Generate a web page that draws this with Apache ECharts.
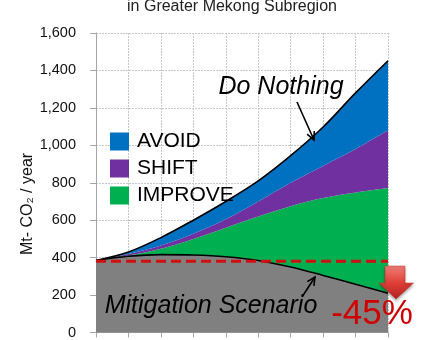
<!DOCTYPE html>
<html>
<head>
<meta charset="utf-8">
<script src="https://cdn.jsdelivr.net/npm/echarts@6/dist/echarts.min.js"></script>
<style>
html,body{margin:0;padding:0;background:#fff;}
#chart{width:425px;height:340px;}
</style>
</head>
<body>
<div id="chart"></div>
<script>
// ---- data ----
const years = ['2005','2010','2015','2020','2025','2030','2035','2040','2045','2050'];
const mitigation = [385, 407, 416, 414, 405, 385, 350, 305, 258, 210];
const improve = [0, 5, 32, 86, 155, 235, 325, 413, 490, 562];
const shift = [0, 8, 17, 28, 45, 80, 125, 172, 232, 308];
const avoid = [0, 10, 42, 72, 95, 110, 145, 208, 300, 372];
const baseline = [380, 380, 380, 380, 380, 380, 380, 380, 380, 380];
const yTicks = [0, 200, 400, 600, 800, 1000, 1200, 1400, 1600];
const legendNames = ['AVOID', 'SHIFT', 'IMPROVE'];

const FONT = 'Liberation Sans, Arial, sans-serif';
const chart = echarts.init(document.getElementById('chart'), null, {renderer: 'canvas'});

function arrow(x1, y1, x2, y2, headLen) {
  const a = Math.atan2(y2 - y1, x2 - x1);
  const h1 = [x2 - headLen * Math.cos(a - 0.45), y2 - headLen * Math.sin(a - 0.45)];
  const h2 = [x2 - headLen * Math.cos(a + 0.45), y2 - headLen * Math.sin(a + 0.45)];
  return [
    {type: 'line', shape: {x1: x1, y1: y1, x2: x2, y2: y2}, style: {stroke: '#000', lineWidth: 1.6}, z: 100},
    {type: 'polyline', shape: {points: [h1, [x2, y2], h2]}, style: {stroke: '#000', lineWidth: 1.6, fill: null}, z: 100}
  ];
}

const option = {
  animation: false,
  textStyle: {fontFamily: FONT},
  grid: {left: 96, right: 37, top: 33, bottom: 4.5, containLabel: false},
  legend: {
    data: legendNames,
    orient: 'vertical',
    left: 105, top: 126,
    itemWidth: 19, itemHeight: 18, itemGap: 6,
    icon: 'rect',
    textStyle: {fontSize: 21, color: '#000', fontFamily: FONT, padding: [0, 0, 0, 3], lineHeight: 18}
  },
  xAxis: {
    type: 'category',
    data: years,
    boundaryGap: false,
    axisLine: {show: true, lineStyle: {color: '#A6A6A6', width: 1}},
    axisTick: {show: true, length: 5, interval: 0, lineStyle: {color: '#A6A6A6'}},
    axisLabel: {show: false, interval: 0},
    splitLine: {show: true, interval: 0, lineStyle: {color: '#C8C8C8', type: [2, 1], width: 1}}
  },
  yAxis: {
    type: 'value',
    min: yTicks[0], max: yTicks[yTicks.length - 1], interval: 200,
    axisLine: {show: true, lineStyle: {color: '#A6A6A6', width: 1}},
    axisTick: {show: true, length: 6, inside: false, lineStyle: {color: '#A6A6A6'}},
    axisLabel: {fontSize: 14.5, color: '#111', margin: 20, fontFamily: FONT,
      formatter: function (v) { return v.toLocaleString('en-US'); }},
    splitLine: {show: true, lineStyle: {color: '#C8C8C8', type: [2, 1], width: 1}}
  },
  series: [
    {
      name: 'Mitigation', type: 'line', stack: 'total', data: mitigation, smooth: 0.35,
      symbol: 'none', z: 4,
      lineStyle: {color: '#000', width: 1.6},
      areaStyle: {color: '#808080', opacity: 1}
    },
    {
      name: 'IMPROVE', type: 'line', stack: 'total', data: improve, smooth: 0.35,
      symbol: 'none', z: 2, itemStyle: {color: '#00B050'},
      lineStyle: {width: 0},
      areaStyle: {color: '#00B050', opacity: 1}
    },
    {
      name: 'SHIFT', type: 'line', stack: 'total', data: shift, smooth: 0.35,
      symbol: 'none', z: 2, itemStyle: {color: '#7030A0'},
      lineStyle: {width: 0},
      areaStyle: {color: '#7030A0', opacity: 1}
    },
    {
      name: 'AVOID', type: 'line', stack: 'total', data: avoid, smooth: 0.35,
      symbol: 'none', z: 3, itemStyle: {color: '#0070C0'},
      lineStyle: {color: '#000', width: 1.6},
      areaStyle: {color: '#0070C0', opacity: 1}
    },
    {
      name: 'Baseline', type: 'line', data: baseline, symbol: 'none', z: 6,
      lineStyle: {color: '#D01010', width: 3, type: [10, 5]}
    }
  ],
  graphic: [
    {type: 'text', style: {text: 'in Greater Mekong Subregion', x: 232, y: 7, align: 'center', verticalAlign: 'middle', font: '16px ' + FONT, fill: '#222'}, z: 100},
    {type: 'text', style: {text: 'Mt- CO\u2082 / year', x: 0, y: 0, align: 'center', verticalAlign: 'middle', font: '16px ' + FONT, fill: '#111'}, x: 28, y: 204, rotation: Math.PI / 2, z: 100},
    {type: 'text', style: {text: 'Do Nothing', x: 281, y: 87, align: 'center', verticalAlign: 'middle', font: 'italic 25px ' + FONT, fill: '#000'}, z: 100},
    {type: 'text', style: {text: 'Mitigation Scenario', x: 211, y: 306, align: 'center', verticalAlign: 'middle', font: 'italic 25px ' + FONT, fill: '#000'}, z: 100},
    {type: 'text', style: {text: '-45%', x: 372, y: 314, align: 'center', verticalAlign: 'middle', font: '35px ' + FONT, fill: '#D00000', shadowColor: 'rgba(0,0,0,0.25)', shadowBlur: 2, shadowOffsetX: 1, shadowOffsetY: 1}, z: 100},
    {type: 'polygon', shape: {points: [[385, 266], [405, 266], [405, 283], [413.5, 283], [396, 299], [379, 283], [385, 283]]},
      style: {fill: new echarts.graphic.LinearGradient(0, 0, 0, 1, [{offset: 0, color: '#F08078'}, {offset: 0.5, color: '#E04038'}, {offset: 1, color: '#B02020'}]),
        stroke: '#C03028', lineWidth: 0.5, shadowColor: 'rgba(0,0,0,0.35)', shadowBlur: 3, shadowOffsetY: 2}, z: 99}
  ].concat(arrow(297, 102, 314, 140, 9)).concat(arrow(302, 297, 315, 277, 9))
};
chart.setOption(option);
</script>
</body>
</html>
